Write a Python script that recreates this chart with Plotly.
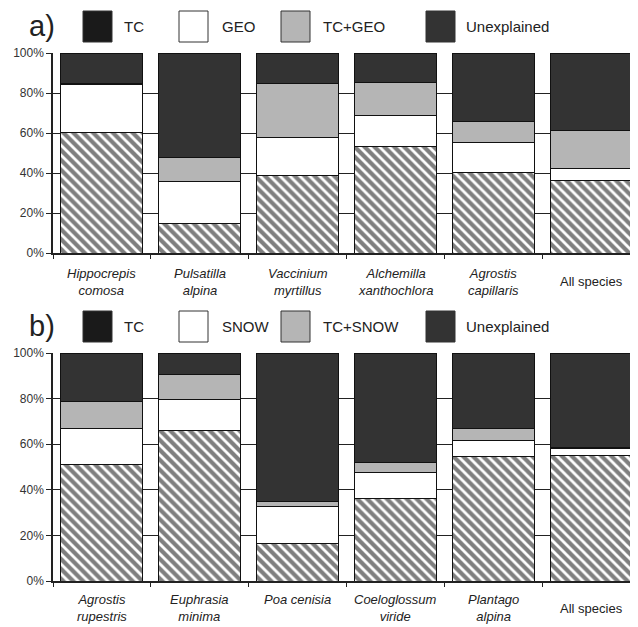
import plotly.graph_objects as go

# The page body adds an 8px margin, so the figure is drawn 8px smaller
# and all pixel positions below are given in reference coordinates minus OFF.
OFF = 8
W, H = 638 - OFF, 627 - OFF

# ---------------- data ----------------
cats_a = ["Hippocrepis comosa", "Pulsatilla alpina", "Vaccinium myrtillus",
          "Alchemilla xanthochlora", "Agrostis capillaris", "All species"]
labels_a = ["<i>Hippocrepis</i><br><i>comosa</i>", "<i>Pulsatilla</i><br><i>alpina</i>",
            "<i>Vaccinium</i><br><i>myrtillus</i>", "<i>Alchemilla</i><br><i>xanthochlora</i>",
            "<i>Agrostis</i><br><i>capillaris</i>", "All species"]
tc_a = [60.5, 15.0, 39.0, 53.3, 40.3, 36.5]
geo_a = [24.0, 20.8, 19.0, 15.4, 15.0, 5.7]
tcgeo_a = [0.5, 12.0, 27.0, 16.8, 10.5, 19.0]
unexp_a = [15.0, 52.2, 15.0, 14.5, 34.2, 38.8]

cats_b = ["Agrostis rupestris", "Euphrasia minima", "Poa cenisia",
          "Coeloglossum viride", "Plantago alpina", "All species "]
labels_b = ["<i>Agrostis</i><br><i>rupestris</i>", "<i>Euphrasia</i><br><i>minima</i>",
            "<i>Poa cenisia</i><br>\u00a0", "<i>Coeloglossum</i><br><i>viride</i>",
            "<i>Plantago</i><br><i>alpina</i>", "All species"]
tc_b = [51.0, 66.2, 16.6, 36.2, 54.4, 54.9]
snow_b = [15.9, 13.2, 16.0, 11.6, 7.1, 3.3]
tcsnow_b = [11.9, 11.3, 2.4, 4.2, 5.6, 0.3]
unexp_b = [21.2, 9.3, 65.0, 48.0, 32.9, 41.5]

legend_a = ["TC", "GEO", "TC+GEO", "Unexplained"]
legend_b = ["TC", "SNOW", "TC+SNOW", "Unexplained"]
y_ticks = [0, 20, 40, 60, 80, 100]
y_ticktext = ["0%", "20%", "40%", "60%", "80%", "100%"]

# ---------------- styling ----------------
FONT = "Arial, Liberation Sans, sans-serif"
DARK = "#333333"
GREY = "#b5b5b5"
LEG_COLORS = ["#1a1a1a", "#ffffff", GREY, DARK]

def px_x(p):
    return (p - OFF) / W

def px_y(p):
    return 1 - (p - OFF) / H

fig = go.Figure()

def add_panel(cats, series, xa, ya):
    tc, mid, both, unexp = series
    line = dict(color="#111111", width=1)
    fig.add_trace(go.Bar(x=cats, y=tc, xaxis=xa, yaxis=ya, showlegend=False,
                         marker=dict(color="white", line=line,
                                     pattern=dict(shape="\\", fgcolor="#000000", bgcolor="white",
                                                  size=7, solidity=0.6))))
    fig.add_trace(go.Bar(x=cats, y=mid, xaxis=xa, yaxis=ya, showlegend=False,
                         marker=dict(color="white", line=line)))
    fig.add_trace(go.Bar(x=cats, y=both, xaxis=xa, yaxis=ya, showlegend=False,
                         marker=dict(color=GREY, line=line)))
    fig.add_trace(go.Bar(x=cats, y=unexp, xaxis=xa, yaxis=ya, showlegend=False,
                         marker=dict(color=DARK, line=line)))

add_panel(cats_a, (tc_a, geo_a, tcgeo_a, unexp_a), "x", "y")
add_panel(cats_b, (tc_b, snow_b, tcsnow_b, unexp_b), "x2", "y2")

xdom = [px_x(53), 1.0]
xrange_ = [-0.5, 5.475]
common_x = dict(type="category", range=xrange_, showline=True, linecolor="#222", linewidth=1.5,
                ticks="outside", ticklen=4, tickcolor="#222", tickson="boundaries",
                showgrid=False, showticklabels=False, zeroline=False, fixedrange=True,
                automargin=False)
common_y = dict(range=[0, 100], tickvals=y_ticks, ticktext=y_ticktext, showline=True,
                linecolor="#222", linewidth=1.5, ticks="outside", ticklen=5, tickcolor="#222",
                showgrid=True, gridcolor="#222", gridwidth=1, zeroline=False, automargin=False,
                tickfont=dict(family=FONT, size=12, color="#333"))

fig.update_layout(
    width=W, height=H, margin=dict(l=0, r=0, t=0, b=0, autoexpand=False),
    paper_bgcolor="white", plot_bgcolor="white",
    barmode="stack", bargap=0.163,
    xaxis=dict(domain=xdom, anchor="y", **common_x),
    yaxis=dict(domain=[px_y(253), px_y(53)], anchor="x", **common_y),
    xaxis2=dict(domain=xdom, anchor="y2", **common_x),
    yaxis2=dict(domain=[px_y(581), px_y(353)], anchor="x2", **common_y),
)

shapes = []
annotations = []

# category labels under the axes
for cats, labels, xa, yc in ((cats_a, labels_a, "x", 282), (cats_b, labels_b, "x2", 608)):
    for c, lab in zip(cats, labels):
        annotations.append(dict(x=c, xref=xa, y=px_y(yc), yref="paper", text=lab,
                                showarrow=False, xanchor="center", yanchor="middle",
                                font=dict(family=FONT, size=13, color="#222")))

# legends
sq_x = [83, 179, 281, 426]
txt_x = [122, 220, 321, 464]
for names, tag, top in ((legend_a, "a)", 11), (legend_b, "b)", 311)):
    for i, name in enumerate(names):
        shapes.append(dict(type="rect", xref="paper", yref="paper",
                           x0=px_x(sq_x[i]), x1=px_x(sq_x[i] + 29),
                           y0=px_y(top + 31), y1=px_y(top),
                           fillcolor=LEG_COLORS[i], line=dict(color="#333", width=1)))
        annotations.append(dict(x=px_x(txt_x[i]), y=px_y(top + 15.5), xref="paper", yref="paper",
                                text=name, showarrow=False, xanchor="left", yanchor="middle",
                                font=dict(family=FONT, size=15, color="#222")))
    annotations.append(dict(x=px_x(41.5), y=px_y(top + 15), xref="paper", yref="paper",
                            text=tag, showarrow=False, xanchor="center", yanchor="middle",
                            font=dict(family=FONT, size=29, color="#222")))

fig.update_layout(shapes=shapes, annotations=annotations)

fig.write_html("out.html")
